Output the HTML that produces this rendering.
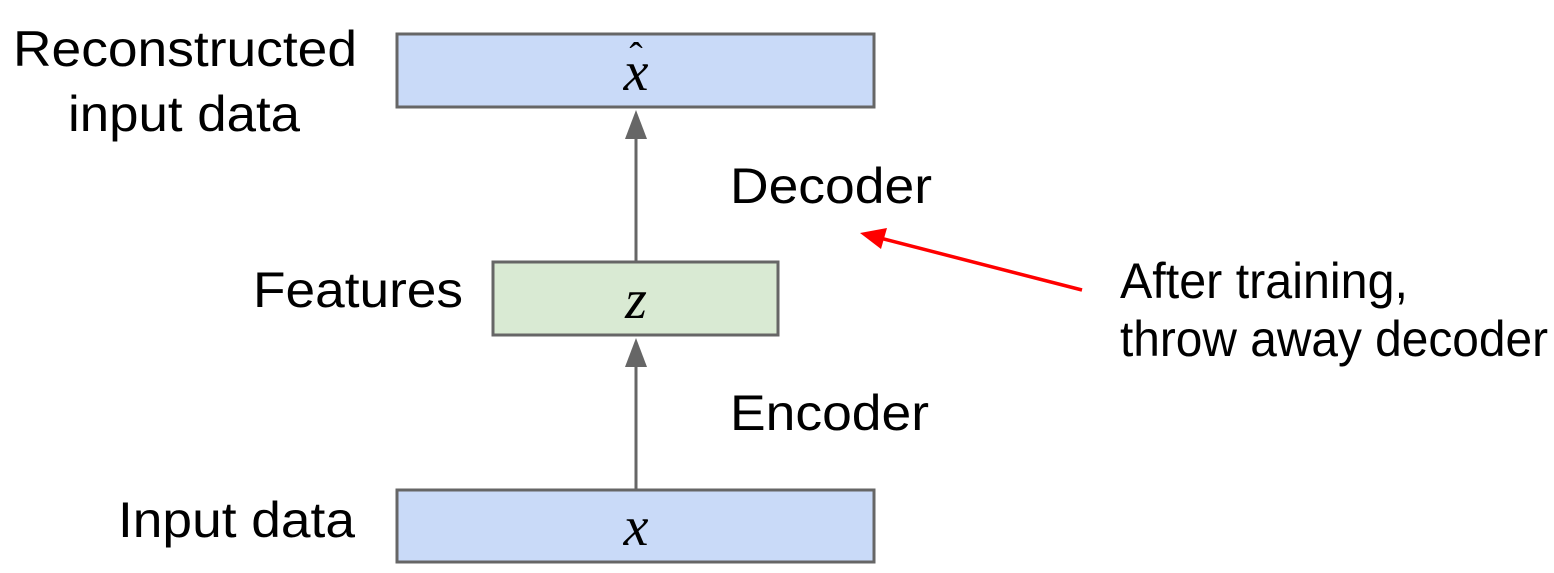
<!DOCTYPE html>
<html><head><meta charset="utf-8"><style>html,body{margin:0;padding:0;background:#fff}svg{display:block}</style></head>
<body>
<svg width="1554" height="573" viewBox="0 0 1554 573" xmlns="http://www.w3.org/2000/svg">
<rect width="1554" height="573" fill="#fff"/>
<g stroke="#666" stroke-width="3">
<rect x="397" y="34" width="477" height="73" fill="#c9daf8"/>
<rect x="493" y="262" width="285" height="73" fill="#d9ead3"/>
<rect x="397" y="490" width="477" height="72" fill="#c9daf8"/>
<line x1="636" y1="262" x2="636" y2="136"/>
<line x1="636" y1="490" x2="636" y2="364"/>
</g>
<g fill="#666">
<polygon points="636,110 625,139 647,139"/>
<polygon points="636,338 625,367 647,367"/>
</g>
<line x1="1082" y1="290" x2="880" y2="238" stroke="#f00" stroke-width="3.5"/>
<polygon points="860,233 887,228 881,249" fill="#f00"/>
<g font-family="Liberation Serif, serif" font-style="italic" font-size="56" text-anchor="middle" fill="#000">
<text x="636" y="90">x</text>
<text x="636" y="70" font-style="normal" font-size="40">ˆ</text>
<text x="636" y="318">z</text>
<text x="636" y="545">x</text>
</g>
<g font-family="Liberation Sans, Arial, sans-serif" font-size="50" fill="#000" lengthAdjust="spacingAndGlyphs">
<text x="13" y="66" textLength="344" lengthAdjust="spacingAndGlyphs">Reconstructed</text>
<text x="68" y="131" textLength="232" lengthAdjust="spacingAndGlyphs">input data</text>
<text x="253" y="307" textLength="210" lengthAdjust="spacingAndGlyphs">Features</text>
<text x="730" y="203" textLength="202" lengthAdjust="spacingAndGlyphs">Decoder</text>
<text x="730" y="430" textLength="199" lengthAdjust="spacingAndGlyphs">Encoder</text>
<text x="118" y="537" textLength="237" lengthAdjust="spacingAndGlyphs">Input data</text>
<text x="1120" y="298" textLength="288" lengthAdjust="spacingAndGlyphs">After training,</text>
<text x="1120" y="356" textLength="428" lengthAdjust="spacingAndGlyphs">throw away decoder</text>
</g>
</svg>
</body></html>
